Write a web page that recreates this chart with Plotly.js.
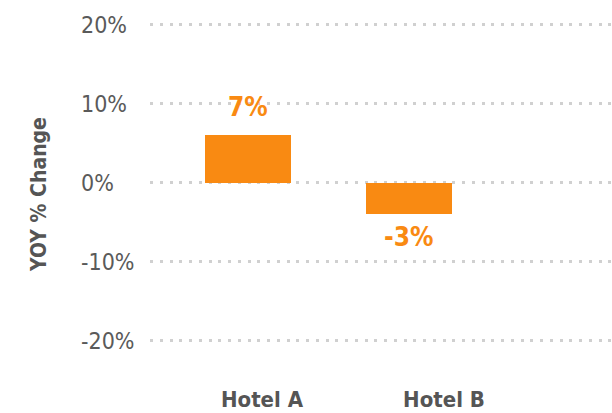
<!DOCTYPE html>
<html>
<head>
<meta charset="utf-8">
<script src="https://cdn.plot.ly/plotly-3.0.1.min.js"></script>
<style>html,body{margin:0;padding:0;background:#fff;}#chart{width:612px;height:413px;}</style>
</head>
<body>
<div id="chart"></div>
<script>
const categories = ['Hotel A', 'Hotel B'];
const yoyChange = [6.1, -3.9];
const valueLabels = ['7%', '-3%'];
const yTickVals = [-20, -10, 0, 10, 20];
const yTickText = ['-20%', '-10%', '0%', '10%', '20%'];

const ORANGE = '#F98A12';
const FONT = '"Liberation Sans Narrow", "DejaVu Sans Condensed", "Arial Narrow", sans-serif';
const barOffset = [-0.313, -0.429];
const barWidth = 0.4725;

const trace = {
  type: 'bar',
  x: categories,
  y: yoyChange,
  offset: barOffset,
  width: barWidth,
  marker: {color: ORANGE, line: {width: 0}},
  hoverinfo: 'skip'
};

const annotations = categories.map((c, i) => ({
  xref: 'x', yref: 'y',
  x: i + barOffset[i] + barWidth / 2,
  y: yoyChange[i],
  text: valueLabels[i],
  showarrow: false,
  xanchor: 'center', yanchor: 'middle',
  yshift: yoyChange[i] >= 0 ? 28 : -23,
  font: {family: FONT, size: 26, color: ORANGE, weight: 700}
}));

const layout = {
  width: 612, height: 413,
  margin: {l: 77, r: 0, t: 5, b: 30, pad: 0},
  paper_bgcolor: '#fff', plot_bgcolor: '#fff',
  showlegend: false,
  bargap: 0,
  xaxis: {
    type: 'category',
    domain: [73 / 535, 1],
    range: [-0.6154, 1.923],
    showgrid: false, zeroline: false, showline: false, ticks: '',
    tickfont: {family: FONT, size: 22, color: '#555555', weight: 700},
    ticklabelstandoff: 1,
    automargin: false
  },
  yaxis: {
    anchor: 'free', position: 0,
    range: [-25.32, 22.53],
    tickvals: yTickVals, ticktext: yTickText,
    ticklabelposition: 'inside',
    showgrid: true, gridcolor: '#d0d0d0', gridwidth: 3, griddash: '3px,6.75px',
    zeroline: false, showline: false, ticks: '',
    tickfont: {family: FONT, size: 23, color: '#5a5a5a'},
    title: {text: 'YOY % Change', standoff: 27, font: {family: FONT, size: 21, color: '#555555', weight: 700}},
    automargin: false
  },
  annotations: annotations
};

Plotly.newPlot('chart', [trace], layout, {staticPlot: true, displayModeBar: false});
</script>
</body>
</html>
